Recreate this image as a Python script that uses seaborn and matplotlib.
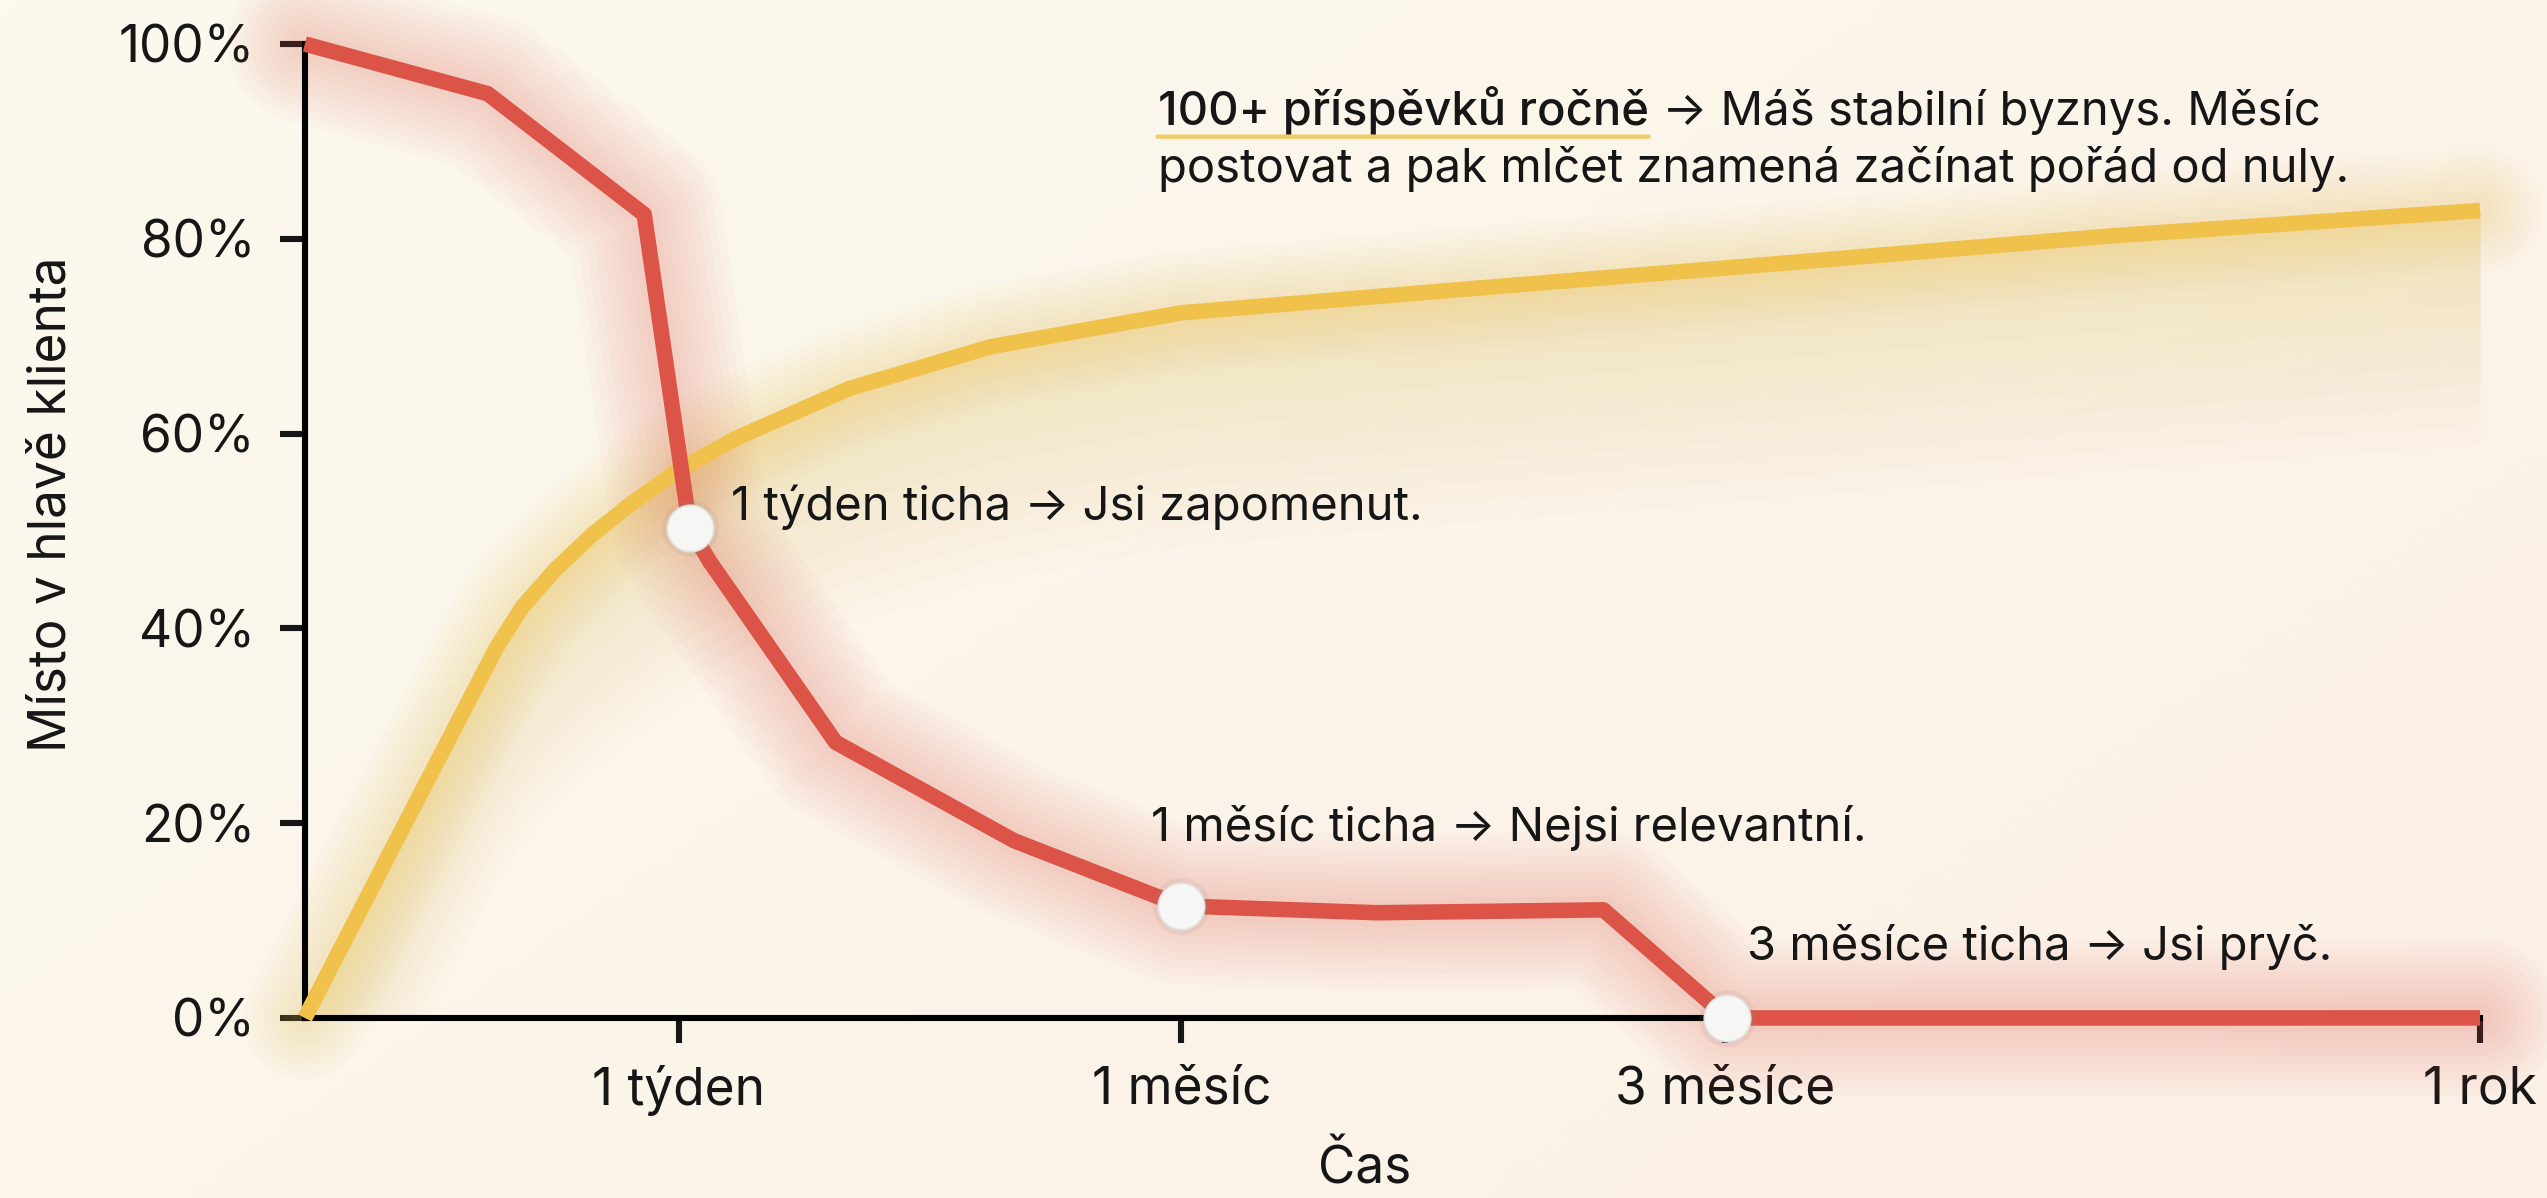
import matplotlib.pyplot as plt
import seaborn as sns
import numpy as np
import pandas as pd

# Time axis is a stretched scale: 0 = start, 100 = 1 year
tick_pos = [17.2, 40.3, 65.3, 100]
tick_labels = ['1 týden', '1 měsíc', '3 měsíce', '1 rok']
y_ticks = [0, 20, 40, 60, 80, 100]
y_tick_labels = ['0%', '20%', '40%', '60%', '80%', '100%']

# Red curve: silence -> client forgets you
silence_x = [0, 8.4, 15.6, 17.7, 18.6, 24.4, 32.6, 40.3, 49.3, 59.7, 65.4, 100]
silence_y = [100, 94.9, 82.5, 50.3, 46.9, 28.3, 18.2, 11.5, 10.8, 11.1, 0, 0]

# Yellow curve: regular posting
posting_x = [0, 4.5, 8.8, 10.0, 11.5, 13.2, 15.0, 17.0, 19.8, 25.0, 31.5, 40.3, 53.2, 65.3, 83.1, 100]
posting_y = [0, 19.5, 38.0, 42.2, 46.0, 49.6, 52.8, 56.0, 59.5, 64.6, 68.9, 72.4, 74.8, 77.0, 80.3, 82.9]

# Highlighted moments on the red curve
marker_x = [17.7, 40.3, 65.4]
marker_y = [50.3, 11.5, 0]
marker_notes = ['1 týden ticha → Jsi zapomenut.',
                '1 měsíc ticha → Nejsi relevantní.',
                '3 měsíce ticha → Jsi pryč.']

head_bold = '100+ příspěvků ročně'
head_rest = ' → Máš stabilní byznys. Měsíc'
head_line2 = 'postovat a pak mlčet znamená začínat pořád od nuly.'

RED = '#DB5447'
YELLOW = '#F0C14B'
INK = '#161616'

sns.set_theme(style='ticks')
plt.rcParams['font.family'] = ['Inter', 'DejaVu Sans']
plt.rcParams['text.color'] = INK

fig = plt.figure(figsize=(12.735, 5.99), dpi=200)

# soft cream background gradient
bg = fig.add_axes([0, 0, 1, 1], zorder=-10)
gx, gy = np.meshgrid(np.linspace(0, 1, 200), np.linspace(0, 1, 100))
c0 = np.array([252, 249, 238]) / 255
c1 = np.array([251, 240, 230]) / 255
t = np.clip(0.6 * gx + 0.4 * gy, 0, 1)[..., None]
bg.imshow(c0 * (1 - t) + c1 * t, aspect='auto', extent=[0, 1, 0, 1])
bg.axis('off')

ax = fig.add_axes([0.1197, 0.1503, 0.8540, 0.8130])
ax.set_facecolor('none')

df_red = pd.DataFrame({'x': silence_x, 'y': silence_y})
df_yel = pd.DataFrame({'x': posting_x, 'y': posting_y})

# glow under the yellow line
for d in np.linspace(1.5, 24, 12):
    ax.fill_between(posting_x, np.array(posting_y) - d, posting_y,
                    color=YELLOW, alpha=0.022, lw=0, zorder=1)
for w in np.linspace(44, 10, 8):
    ax.plot(posting_x, posting_y, color=YELLOW, lw=w, alpha=0.03,
            solid_capstyle='round', solid_joinstyle='round', zorder=1, clip_on=False)
# glow around the red line
for w in np.linspace(56, 10, 9):
    ax.plot(silence_x, silence_y, color=RED, lw=w, alpha=0.028,
            solid_capstyle='round', solid_joinstyle='round', zorder=2, clip_on=False)

sns.lineplot(data=df_yel, x='x', y='y', ax=ax, color=YELLOW, lw=5.6,
             zorder=4, clip_on=False)
sns.lineplot(data=df_red, x='x', y='y', ax=ax, color=RED, lw=5.6,
             zorder=5, clip_on=False)
for line in ax.lines[-2:]:
    line.set_solid_joinstyle('round')
    line.set_solid_capstyle('butt')

# white dots with a soft shadow
ax.scatter(marker_x, marker_y, s=420, color='#9A8F88', alpha=0.12,
           linewidth=0, zorder=6, clip_on=False)
ax.scatter(marker_x, marker_y, s=280, color='#F6F6F4', edgecolor='#E4E2DE',
           linewidth=0.6, zorder=6, clip_on=False)

ax.set_xlim(0, 100)
ax.set_ylim(0, 100)
ax.set_xticks(tick_pos)
ax.set_xticklabels(tick_labels)
ax.set_yticks(y_ticks)
ax.set_yticklabels(y_tick_labels)
ax.tick_params(axis='both', colors=INK, labelsize=18.5, width=2.2, length=9,
               labelcolor=INK)
ax.tick_params(axis='y', pad=9)
ax.tick_params(axis='x', pad=8)
sns.despine(ax=ax)
for side in ['left', 'bottom']:
    ax.spines[side].set_linewidth(2.2)
    ax.spines[side].set_color('black')
    ax.spines[side].set_zorder(3)

ax.set_xlabel('Čas', fontsize=18.5, color=INK)
ax.set_ylabel('Místo v hlavě klienta', fontsize=18.5, color=INK)
ax.xaxis.set_label_coords(0.487, -0.13)
ax.yaxis.set_label_coords(-0.105, 0.527)

# notes next to markers
note_pos = [(19.6, 52.4), (38.9, 19.5), (66.3, 7.3)]
for (nx, ny), note in zip(note_pos, marker_notes):
    ax.text(nx, ny, note, fontsize=17, color=INK, ha='left', va='center', zorder=7)

# headline with underlined first part
t1 = ax.text(39.2, 93.2, head_bold, fontsize=17, fontweight='medium',
             color=INK, ha='left', va='center', zorder=7)
ax.annotate(head_rest, xy=(1, 0), xycoords=t1, va='bottom', ha='left',
            fontsize=17, color=INK, zorder=7)
ax.annotate('', xy=(0, -0.04), xycoords=t1, xytext=(1, -0.04), textcoords=t1,
            arrowprops=dict(arrowstyle='-', color='#EFCB6A', lw=1.6,
                            shrinkA=0, shrinkB=0), zorder=7)
ax.text(39.2, 87.2, head_line2, fontsize=17, color=INK, ha='left', va='center',
        zorder=7)

plt.savefig('out.png', dpi=200)
plt.close()
